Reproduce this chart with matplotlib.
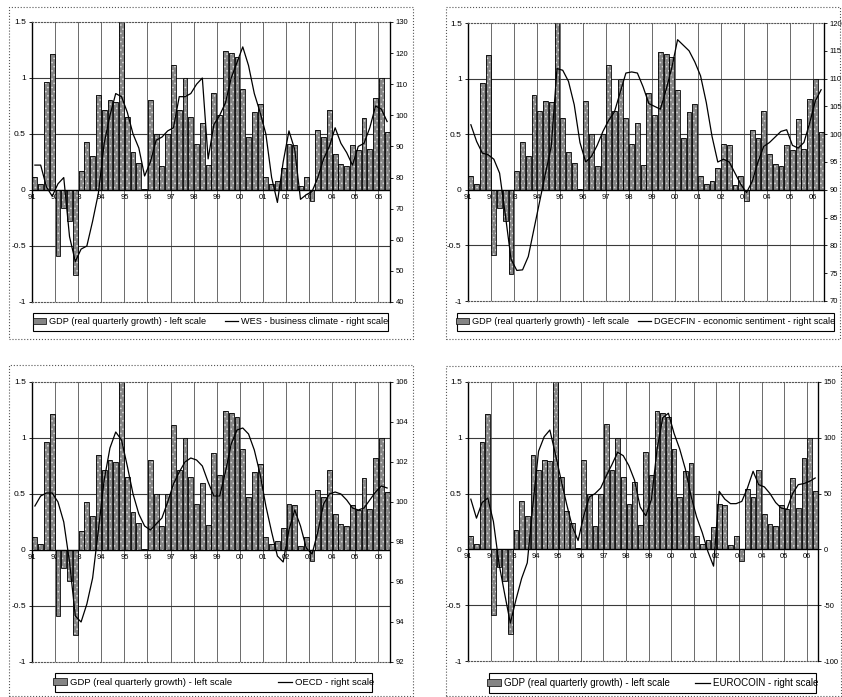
import numpy as np
import matplotlib.pyplot as plt
from matplotlib.patches import Patch, Rectangle
from matplotlib.lines import Line2D

plt.rcParams['font.family'] = 'Liberation Sans'
plt.rcParams['hatch.linewidth'] = 0.6
plt.rcParams['axes.unicode_minus'] = False

# Year labels on the category axis (one per four quarters, 1991Q1 - 2006Q2)
years = ['91', '92', '93', '94', '95', '96', '97', '98', '99',
         '00', '01', '02', '03', '04', '05', '06']

# GDP, real quarterly growth (%), left scale
gdp = [0.12, 0.05, 0.96, 1.21, -0.59, -0.16, -0.28, -0.76, 0.17, 0.43,
       0.30, 0.85, 0.71, 0.80, 0.79, 1.52, 0.65, 0.34, 0.24, 0.01,
       0.80, 0.50, 0.21, 0.50, 1.12, 0.71, 1.00, 0.65, 0.41, 0.60,
       0.22, 0.87, 0.67, 1.24, 1.22, 1.19, 0.90, 0.47, 0.70, 0.77,
       0.12, 0.05, 0.08, 0.20, 0.41, 0.40, 0.04, 0.12, -0.10, 0.54,
       0.47, 0.71, 0.32, 0.23, 0.21, 0.40, 0.36, 0.64, 0.37, 0.82,
       1.00, 0.52]

# Survey / composite indicators, right scale
wes = [84, 84, 77, 74, 78, 80, 61, 53, 57, 58,
       66, 75, 91, 100, 107, 106, 101, 94, 89.5, 80.5,
       85, 92, 93, 95, 96, 106, 106, 107, 110, 112,
       86, 97, 100, 104, 112, 117, 122, 116, 107, 101,
       94, 80, 72, 85, 95, 89, 73, 74.5, 75.5, 80,
       86, 90, 96, 91, 88, 84, 90, 91, 96, 103,
       102, 98]

dgecfin = [101.7, 98.7, 96.6, 96.3, 95.5, 93.0, 85.5, 77.5, 75.5, 75.6,
           78.0, 83.0, 88.0, 93.0, 97.8, 111.8, 111.5, 109.5, 105.3, 98.5,
           95.0, 96.0, 98.0, 100.5, 102.5, 104.0, 107.5, 111.0, 111.2, 111.0,
           108.5, 105.5, 105.0, 104.5, 108.0, 112.0, 117.0, 116.0, 115.0, 113.0,
           110.5, 105.7, 99.6, 95.0, 95.5, 95.0, 93.0, 91.0, 89.5, 91.5,
           95.0, 97.8, 98.5, 99.5, 100.5, 100.8, 98.0, 97.5, 98.5, 102.0,
           106.0, 108.0]

oecd = [99.8, 100.3, 100.45, 100.45, 100.0, 99.0, 97.0, 94.3, 94.0, 94.9,
        96.2, 98.6, 101.1, 102.7, 103.5, 103.1, 101.8, 100.4, 99.4, 98.8,
        98.6, 98.9, 99.2, 100.0, 100.9, 101.5, 102.0, 102.2, 102.1, 101.8,
        101.0, 100.3, 100.3, 101.5, 102.9, 103.6, 103.7, 103.4, 102.6, 101.4,
        99.8, 98.5, 97.3, 97.0, 98.6, 99.6, 98.8, 97.7, 97.4, 98.5,
        99.9, 100.4, 100.5, 100.4, 100.1, 99.7, 99.6, 99.7, 100.1, 100.5,
        100.8, 100.7]

eurocoin = [45, 28, 42, 46, 25, -13, -40, -66, -45, -26,
            -12, 40, 88, 101, 107, 85, 62, 40, 20, 8,
            30, 47, 50, 55, 66, 76, 87, 84, 75, 62,
            38, 30, 45, 90, 118, 122, 104, 90, 72, 48,
            29, 15, -2, -15, 52, 45, 41, 41, 43, 55,
            70, 58, 56, 50, 42, 37, 36, 50, 58, 59,
            61, 64]

gdp_label = 'GDP (real quarterly growth) - left scale'

W, H = 842, 697


def fig_rect(x0, y0, x1, y1):
    # pixel box (top-left origin) -> figure fraction [left, bottom, width, height]
    return [x0 / W, 1 - y1 / H, (x1 - x0) / W, (y1 - y0) / H]


# series, legend text, right range, right ticks, plot box, legend box,
# outer frame, legend font size, column gap
panels = [
    (wes, 'WES - business climate - right scale', (40, 130), np.arange(40, 131, 10),
     (32, 22, 390, 302), (33, 313, 388, 331), (9, 7, 413, 339), 6.6, 2.0),
    (dgecfin, 'DGECFIN - economic sentiment - right scale', (70, 120), np.arange(70, 121, 5),
     (468, 23, 824, 301), (457, 313, 834, 331), (446, 7, 840, 339), 6.6, 0.9),
    (oecd, 'OECD - right scale', (92, 106), np.arange(92, 107, 2),
     (32, 382, 390, 662), (55, 673, 372, 692), (9, 365, 413, 696), 6.8, 4.8),
    (eurocoin, 'EUROCOIN - right scale', (-100, 150), np.arange(-100, 151, 50),
     (468, 382, 818, 661), (489, 673, 816, 693), (446, 366, 841, 696), 7.0, 2.6),
]

fig = plt.figure(figsize=(W / 100, H / 100), dpi=100)

x = np.arange(len(gdp))
bar_face = '#858585'

for series, label, rlim, rticks, pbox, lbox, frame, lsize, gap in panels:
    ax = fig.add_axes(fig_rect(*pbox))

    # stippled grey bars with black outline
    ax.bar(x, gdp, width=0.84, color=bar_face, edgecolor='#d6d6d6',
           hatch='....', linewidth=0, zorder=2)
    ax.bar(x, gdp, width=0.84, fill=False, edgecolor='black',
           linewidth=0.6, zorder=2.1)

    ax.set_xlim(-0.5, len(gdp) - 0.5)
    ax.set_ylim(-1, 1.5)
    ax.set_xticks([])
    ax.set_yticks([-1, -0.5, 0, 0.5, 1, 1.5])
    ax.set_yticklabels(['-1', '-0.5', '0', '0.5', '1', '1.5'])
    ax.tick_params(axis='y', labelsize=6, length=2.5, width=0.6, pad=2)

    # year gridlines and horizontal gridlines
    for k in range(len(years)):
        ax.axvline(4 * k - 0.5, color='#6a6a6a', lw=0.7, zorder=0.5)
    for v in (-0.5, 0.5, 1.0):
        ax.axhline(v, color='#3a3a3a', lw=0.8, zorder=0.5)
    ax.axhline(0, color='black', lw=1.0, zorder=2.5)

    for k, yr in enumerate(years):
        ax.text(4 * k - 0.5, -0.035, yr, ha='center', va='top', fontsize=5.5,
                zorder=1, clip_on=False)

    for side in ('top', 'bottom'):
        ax.spines[side].set_linestyle(':')
        ax.spines[side].set_color('#555555')
        ax.spines[side].set_linewidth(0.8)
    ax.spines['left'].set_linewidth(1.0)

    # indicator on the right scale
    ax2 = ax.twinx()
    ax2.plot(x, series, color='black', lw=0.9, zorder=3)
    ax2.set_ylim(*rlim)
    ax2.set_yticks(rticks)
    ax2.tick_params(axis='y', labelsize=5.5, length=2.5, width=0.6, pad=1.5)
    for side in ('top', 'bottom', 'left'):
        ax2.spines[side].set_visible(False)
    ax2.spines['right'].set_linewidth(0.9)

    # legend box drawn separately so it spans the chart width
    lb = fig_rect(*lbox)
    fig.add_artist(Rectangle((lb[0], lb[1]), lb[2], lb[3], transform=fig.transFigure,
                             fill=False, linewidth=0.8, edgecolor='black'))
    handles = [Patch(facecolor=bar_face, edgecolor='black', linewidth=0.5),
               Line2D([0], [0], color='black', lw=0.9)]
    fig.legend(handles, [gdp_label, label], loc='center', ncol=2,
               bbox_to_anchor=(lb[0] + lb[2] / 2, lb[1] + lb[3] / 2),
               bbox_transform=fig.transFigure, frameon=False,
               fontsize=lsize, borderpad=0, handlelength=1.5, handleheight=0.7,
               handletextpad=0.3, columnspacing=gap)

    # dotted outer frame round each chart
    fx = fig_rect(*frame)
    fig.add_artist(Rectangle((fx[0], fx[1]), fx[2], fx[3], transform=fig.transFigure,
                             fill=False, linestyle=':', linewidth=0.8,
                             edgecolor='#555555'))

fig.savefig('out.png', dpi=100)
